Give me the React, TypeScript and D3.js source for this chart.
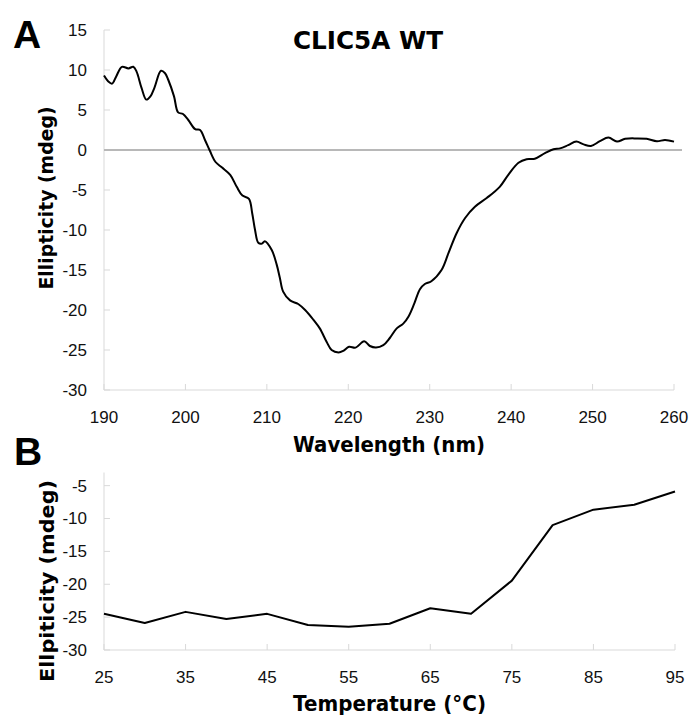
import React from "react";
import * as d3 from "d3";

// Panel A: CD spectrum
const wavelength = [190.0,190.5,191.0,191.5,192.2,193.0,193.6,194.0,194.6,195.2,195.7,196.2,197.0,197.5,197.9,198.6,199.1,199.7,200.35,201.2,201.8,202.4,203.0,203.7,204.5,205.5,206.3,207.0,207.8,208.2,208.55,208.95,209.4,209.75,210.6,211.2,211.6,212.0,212.85,213.85,214.7,215.7,216.5,217.35,217.95,218.8,219.4,220.1,220.9,221.95,222.65,223.4,224.3,225.1,225.95,226.75,227.4,228.1,228.8,229.4,230.2,231.45,232.3,233.3,234.35,235.55,237.0,238.6,239.65,240.9,241.9,242.9,244.15,245.2,246.0,247.0,248.0,248.9,249.8,250.9,251.95,253.0,254.0,255.4,256.65,257.9,258.9,260.0];
const ellipticityA = [9.3,8.6,8.3,9.2,10.4,10.2,10.4,9.8,7.8,6.3,6.7,7.8,9.9,9.6,8.75,6.7,4.7,4.5,3.75,2.6,2.5,1.25,-0.1,-1.5,-2.2,-3.1,-4.6,-5.7,-6.1,-7.9,-10,-11.6,-11.7,-11.4,-12.5,-14.3,-16.0,-17.7,-18.8,-19.25,-20,-21.2,-22.3,-24.0,-25,-25.3,-25.1,-24.6,-24.7,-23.9,-24.5,-24.7,-24.4,-23.5,-22.3,-21.7,-20.8,-19.2,-17.4,-16.75,-16.4,-15,-12.9,-10.4,-8.5,-7.1,-6.0,-4.6,-3.1,-1.6,-1.15,-1.1,-0.4,0.1,0.2,0.6,1.05,0.7,0.5,1.1,1.55,1.05,1.4,1.45,1.4,1.1,1.25,1.05];
const xTicksA = [190,200,210,220,230,240,250,260];
const yTicksA = [15,10,5,0,-5,-10,-15,-20,-25,-30];

// Panel B: thermal melt
const temperature = [25,30,35,40,45,50,55,60,65,70,75,80,85,90,95];
const ellipticityB = [-24.5,-25.9,-24.2,-25.3,-24.5,-26.2,-26.45,-26.0,-23.65,-24.5,-19.45,-11.0,-8.65,-7.9,-5.9];
const xTicksB = [25,35,45,55,65,75,85,95];
const yTicksB = [-5,-10,-15,-20,-25,-30];

const tickFont = "'Liberation Sans', Arial, sans-serif";
const boldFont = "'DejaVu Sans', Verdana, sans-serif";
const axisColor = "#d9d9d9";

export default function App() {
  const xA = d3.scaleLinear().domain([190, 260]).range([104, 674]);
  const yA = d3.scaleLinear().domain([-30, 15]).range([390, 30]);
  const xB = d3.scaleLinear().domain([25, 95]).range([104, 675]);
  const yB = d3.scaleLinear().domain([-30, -3]).range([650, 472.5]);

  const lineA = d3
    .line<number>()
    .x((_, i) => xA(wavelength[i]))
    .y((d) => yA(d))
    .curve(d3.curveCatmullRom.alpha(0.5))(ellipticityA) || "";
  const lineB = d3
    .line<number>()
    .x((_, i) => xB(temperature[i]))
    .y((d) => yB(d))(ellipticityB) || "";

  return (
    <svg width={689} height={715} style={{ position: "absolute", left: 0, top: 0, background: "#fff" }}>
      <rect width={689} height={715} fill="#fff" />
      {/* Panel letters */}
      <text x={13} y={48} fontFamily="'Liberation Sans', Arial, sans-serif" fontWeight="bold" fontSize={39}>A</text>
      <text x={14} y={465} fontFamily="'Liberation Sans', Arial, sans-serif" fontWeight="bold" fontSize={39}>B</text>

      {/* Panel A */}
      <text x={368} y={49} textAnchor="middle" fontFamily={boldFont} fontWeight="bold" fontSize={24} textLength={150} lengthAdjust="spacingAndGlyphs">CLIC5A WT</text>
      <line x1={xA(190)} x2={xA(190)} y1={yA(15)} y2={yA(-30)} stroke={axisColor} strokeWidth={1} />
      <line x1={xA(190)} x2={xA(260)} y1={yA(-30)} y2={yA(-30)} stroke={axisColor} strokeWidth={1} />
      {yTicksA.map((t) => (
        <g key={"ya" + t}>
          <line x1={xA(190)} x2={xA(190) + 6} y1={yA(t)} y2={yA(t)} stroke={axisColor} />
          <text x={87} y={yA(t)} dy="0.35em" textAnchor="end" fontFamily={tickFont} fontSize={17} fill="#111">{t}</text>
        </g>
      ))}
      {xTicksA.map((t) => (
        <g key={"xa" + t}>
          <line x1={xA(t)} x2={xA(t)} y1={yA(-30)} y2={yA(-30) - 6} stroke={axisColor} />
          <text x={xA(t)} y={423} textAnchor="middle" fontFamily={tickFont} fontSize={17} fill="#111">{t}</text>
        </g>
      ))}
      <line x1={xA(190)} x2={682} y1={yA(0)} y2={yA(0)} stroke="#b8b8b8" strokeWidth={2} />
      <path d={lineA} fill="none" stroke="#000" strokeWidth={2} />
      <text x={389} y={452} textAnchor="middle" fontFamily={boldFont} fontWeight="bold" fontSize={21} textLength={192} lengthAdjust="spacingAndGlyphs">Wavelength (nm)</text>
      <text transform="translate(53,198) rotate(-90)" textAnchor="middle" fontFamily={boldFont} fontWeight="bold" fontSize={20} textLength={183} lengthAdjust="spacingAndGlyphs">Ellipticity (mdeg)</text>

      {/* Panel B */}
      <line x1={xB(25)} x2={xB(25)} y1={yB(-3)} y2={yB(-30)} stroke={axisColor} strokeWidth={1} />
      <line x1={xB(25)} x2={xB(95)} y1={yB(-30)} y2={yB(-30)} stroke={axisColor} strokeWidth={1} />
      {yTicksB.map((t) => (
        <g key={"yb" + t}>
          <line x1={xB(25)} x2={xB(25) + 6} y1={yB(t)} y2={yB(t)} stroke={axisColor} />
          <text x={87} y={yB(t)} dy="0.35em" textAnchor="end" fontFamily={tickFont} fontSize={17} fill="#111">{t}</text>
        </g>
      ))}
      {xTicksB.map((t) => (
        <g key={"xb" + t}>
          <line x1={xB(t)} x2={xB(t)} y1={yB(-30)} y2={yB(-30) - 6} stroke={axisColor} />
          <text x={xB(t)} y={683} textAnchor="middle" fontFamily={tickFont} fontSize={17} fill="#111">{t}</text>
        </g>
      ))}
      <path d={lineB} fill="none" stroke="#000" strokeWidth={2} strokeLinejoin="round" />
      <text x={389.5} y={711} textAnchor="middle" fontFamily={boldFont} fontWeight="bold" fontSize={21} textLength={193} lengthAdjust="spacingAndGlyphs">Temperature (°C)</text>
      <text transform="translate(54,581) rotate(-90)" textAnchor="middle" fontFamily={boldFont} fontWeight="bold" fontSize={20} textLength={202} lengthAdjust="spacingAndGlyphs">Ellpiticity  (mdeg)</text>
    </svg>
  );
}
